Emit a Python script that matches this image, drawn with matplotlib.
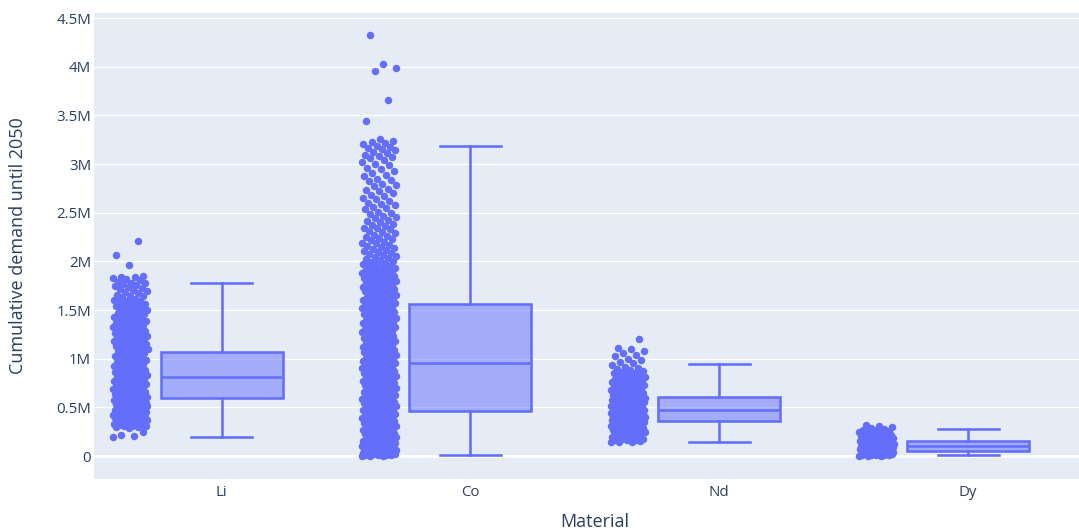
import numpy as np
import matplotlib.pyplot as plt
from matplotlib.ticker import FuncFormatter

plt.rcParams['font.family'] = ['Open Sans', 'DejaVu Sans']

# categories and box statistics (values in tonnes)
materials = ['Li', 'Co', 'Nd', 'Dy']
q1 = [596000, 460000, 363000, 48000]
median = [809000, 959000, 473000, 99000]
q3 = [1071000, 1559000, 606000, 151000]
whisker_low = [195000, 7000, 144000, 10000]
whisker_high = [1776000, 3190000, 942000, 277000]

# individual scenario results (thousands)
li_points = [192, 205, 221, 248, 283, 296, 304, 311, 319, 326, 333, 338, 347, 353, 361, 366,
             374, 382, 387, 395, 403, 409, 416, 424, 431, 437, 446, 452, 458, 467, 473, 481,
             488, 494, 503, 509, 517, 522, 531, 538, 544, 552, 557, 566, 571, 578, 586, 591,
             598, 603, 611, 617, 622, 629, 636, 641, 648, 655, 661, 667, 674, 679, 686, 693,
             698, 705, 712, 717, 724, 731, 736, 743, 749, 756, 762, 768, 775, 781, 788, 795,
             801, 808, 814, 821, 829, 836, 843, 851, 858, 866, 872, 881, 888, 896, 903, 911,
             918, 926, 934, 941, 949, 957, 964, 972, 981, 989, 997, 1006, 1014, 1023, 1031,
             1040, 1049, 1058, 1067, 1078, 1089, 1101, 1112, 1124, 1137, 1149, 1161, 1174,
             1186, 1199, 1213, 1226, 1239, 1253, 1267, 1281, 1296, 1311, 1325, 1341, 1356,
             1372, 1388, 1404, 1421, 1438, 1455, 1473, 1491, 1508, 1526, 1547, 1571, 1594,
             1618, 1646, 1671, 1697, 1712, 1733, 1758, 1776, 1804, 1829, 1851, 1962, 2063, 2205,
             312, 344, 371, 399, 428, 463, 499, 536, 574, 1083, 1118, 1143, 1168, 1193, 1219,
             1246, 1274, 1303, 1333, 1364, 1396, 1429, 1463, 1499, 1535, 1559, 1583, 1607,
             1632, 1659, 1684, 1722, 1745, 1769, 1791, 1817, 1838,
             301, 323, 336, 358, 379, 391, 412, 421, 441, 456, 478, 486, 512, 527, 549, 562,
             583, 1095, 1131, 1155, 1181, 1206, 1232, 1259, 1289, 1318, 1349, 1380, 1412,
             1446, 1481, 1517, 1541, 1565, 1598, 1641, 1702, 1781, 1843]
co_points = [2, 5, 8, 11, 15, 19, 24, 28, 33, 37, 42, 47, 53, 58, 63, 69, 74, 81, 86, 92,
             98, 104, 111, 117, 123, 130, 137, 143, 150, 158, 165, 172, 179, 187, 195, 203,
             211, 219, 227, 236, 244, 253, 262, 271, 280, 289, 298, 308, 317, 327, 337, 347,
             357, 368, 379, 390, 401, 413, 426, 441, 462, 471, 479, 488, 497, 505, 514, 523,
             531, 540, 549, 558, 567, 576, 585, 594, 603, 612, 621, 630, 639, 648, 658, 667,
             676, 686, 695, 704, 714, 723, 733, 742, 752, 761, 771, 781, 790, 800, 810, 819,
             829, 839, 849, 859, 869, 879, 889, 899, 909, 919, 929, 939, 949, 955, 961, 968,
             979, 990, 1001, 1012, 1023, 1034, 1045, 1056, 1067, 1078, 1090, 1101, 1112, 1123,
             1134, 1146, 1157, 1168, 1180, 1191, 1202, 1214, 1225, 1237, 1248, 1260, 1271,
             1283, 1294, 1306, 1317, 1329, 1341, 1352, 1364, 1376, 1387, 1399, 1411, 1423,
             1435, 1446, 1458, 1470, 1482, 1494, 1506, 1518, 1530, 1542, 1553, 1561, 1570,
             1579, 1589, 1598, 1607, 1617, 1626, 1636, 1645, 1655, 1664, 1674, 1683, 1693,
             1703, 1712, 1722, 1731, 1741, 1750, 1760, 1769, 1779, 1788, 1798, 1807, 1816,
             1826, 1835, 1845, 1854, 1863, 1872, 1881, 1890, 1898, 1906, 1918, 1931, 1944,
             1958, 1971, 1985, 1999, 2013, 2028, 2042, 2057, 2072, 2088, 2103, 2119, 2135,
             2152, 2168, 2185, 2202, 2219, 2237, 2255, 2273, 2291, 2310, 2329, 2348, 2368,
             2388, 2408, 2428, 2449, 2470, 2491, 2513, 2535, 2557, 2580, 2603, 2626, 2650,
             2674, 2698, 2723, 2748, 2773, 2799, 2825, 2851, 2878, 2905, 2932, 2960, 2988,
             3017, 3046, 3075, 3098, 3121, 3145, 3168, 3190, 3214, 3238, 3258, 3445, 3660,
             3960, 3990, 4030, 4330,
             4, 13, 22, 31, 45, 56, 67, 79, 95, 108, 127, 141, 162, 183, 207, 232, 258, 285,
             313, 343, 373, 396, 419, 435, 450, 484, 518, 553, 589, 626, 663, 699, 737, 776,
             815, 853, 893, 933, 973, 1015, 1062, 1108, 1152, 1197, 1243, 1289, 1335, 1381,
             1428, 1476, 1523, 1575, 1621, 1668, 1716, 1765, 1812, 1858, 1885, 1902,
             1925, 1952, 1978, 2006, 2035, 2064, 2095, 2127, 2160, 2194, 2228, 2264, 2300,
             2339, 2378, 2418, 2460, 2502, 2546, 2591, 2638, 2686, 2736, 2787, 2838, 2892,
             2946, 3003, 3061, 3110, 3157, 3203, 3226, 3172, 3083,
             17, 39, 61, 88, 119, 152, 191, 224, 266, 301, 332, 362, 384, 408, 431, 457, 475,
             502, 527, 547, 571, 597, 617, 643, 672, 691, 718, 746, 768, 796, 824, 846, 874,
             903, 926, 951, 986, 1009, 1039, 1071, 1096, 1127, 1163, 1186, 1219, 1254, 1278,
             1312, 1347, 1369, 1404, 1441, 1463, 1499, 1536, 1566, 1612, 1651, 1697, 1738,
             1784, 1829, 1868]
nd_points = [141, 149, 157, 166, 173, 181, 189, 196, 204, 212, 219, 227, 235, 243, 251, 259,
             267, 275, 283, 291, 299, 307, 315, 323, 332, 344, 356, 366, 370, 374, 378, 382,
             386, 390, 394, 398, 402, 406, 411, 415, 419, 423, 427, 431, 436, 440, 444, 448,
             452, 457, 461, 465, 469, 472, 477, 482, 487, 492, 497, 502, 507, 512, 517, 522,
             527, 532, 537, 542, 547, 552, 557, 562, 567, 572, 577, 582, 587, 592, 597, 601,
             605, 614, 625, 636, 648, 659, 671, 683, 695, 707, 719, 731, 744, 757, 770, 783,
             797, 811, 826, 841, 857, 874, 893, 914, 938, 965, 1002, 1058, 1095, 1203,
             146, 162, 178, 199, 222, 247, 271, 295, 319, 340, 361, 380, 397, 413, 429, 446,
             463, 480, 499, 519, 539, 559, 579, 599, 620, 642, 666, 689, 713, 738, 764, 790,
             818, 849, 884, 985, 1023, 1041, 1077, 1112,
             168, 193, 238, 263, 302, 328, 351, 627, 653, 677, 701, 726, 752, 777, 803, 833,
             866, 905, 952]
dy_points = [2, 5, 8, 11, 14, 17, 20, 24, 27, 31, 35, 39, 43, 47, 51, 55, 59, 63, 67, 71,
             75, 79, 83, 87, 91, 95, 99, 103, 107, 111, 115, 119, 124, 128, 132, 137, 141,
             146, 150, 156, 162, 168, 174, 181, 188, 196, 204, 212, 221, 230, 239, 248, 258,
             268, 281, 297, 318,
             3, 9, 16, 22, 29, 37, 45, 53, 61, 69, 77, 85, 93, 101, 109, 117, 126, 135, 144,
             153, 165, 178, 192, 208, 226, 244, 262, 285, 305,
             6, 19, 33, 49, 65, 81, 97, 113, 130, 148, 171, 199, 234, 271]

color = '#636efa'
fig = plt.figure(figsize=(10.79, 5.31), dpi=100)
ax = fig.add_axes([94 / 1079, 52 / 531, 985 / 1079, 466.3 / 531])
ax.set_facecolor('#E5ECF6')

# jittered points, left of each box
for i, pts in enumerate([li_points, co_points, nd_points, dy_points]):
    vals = np.sort(np.array(pts) * 1000)
    jit = ((np.arange(len(vals)) * 0.618034) % 1 - 0.5) * 0.14
    ax.scatter(i - 0.367 + jit, vals, s=29, color=color, linewidths=0, zorder=3)

stats = []
for i, m in enumerate(materials):
    stats.append({'label': m, 'q1': q1[i], 'med': median[i], 'q3': q3[i],
                  'whislo': whisker_low[i], 'whishi': whisker_high[i], 'fliers': []})
lw = 1.85
ax.bxp(stats, positions=range(4), widths=0.49, patch_artist=True, showfliers=False,
       boxprops=dict(facecolor=(99/255, 110/255, 250/255, 0.5), edgecolor=color, linewidth=lw),
       medianprops=dict(color=color, linewidth=lw),
       whiskerprops=dict(color=color, linewidth=lw),
       capprops=dict(color=color, linewidth=lw), zorder=3)

ax.set_xlim(-0.513, 3.446)
ax.set_ylim(-236000, 4556000)
ax.set_yticks(np.arange(0, 4500001, 500000))
ax.yaxis.set_major_formatter(FuncFormatter(lambda v, p: '0' if v == 0 else f'{v / 1e6:g}M'))
ax.set_xticks(range(4))
ax.set_xticklabels(materials)

ax.grid(axis='y', color='white', linewidth=0.95)
ax.axhline(0, color='white', linewidth=1.9, zorder=1)
ax.set_axisbelow(True)
for s in ax.spines.values():
    s.set_visible(False)
ax.tick_params(length=0, colors='#2a3f5f', labelsize=10.8)
ax.tick_params(axis='y', pad=2)
ax.tick_params(axis='x', pad=4)

ax.set_ylabel('Cumulative demand until 2050', fontsize=13, color='#2a3f5f')
ax.yaxis.set_label_coords(-0.068, 0.5)
ax.set_xlabel('Material', fontsize=13, color='#2a3f5f')
ax.xaxis.set_label_coords(0.508, -0.073)

fig.savefig('out.png', dpi=100)
